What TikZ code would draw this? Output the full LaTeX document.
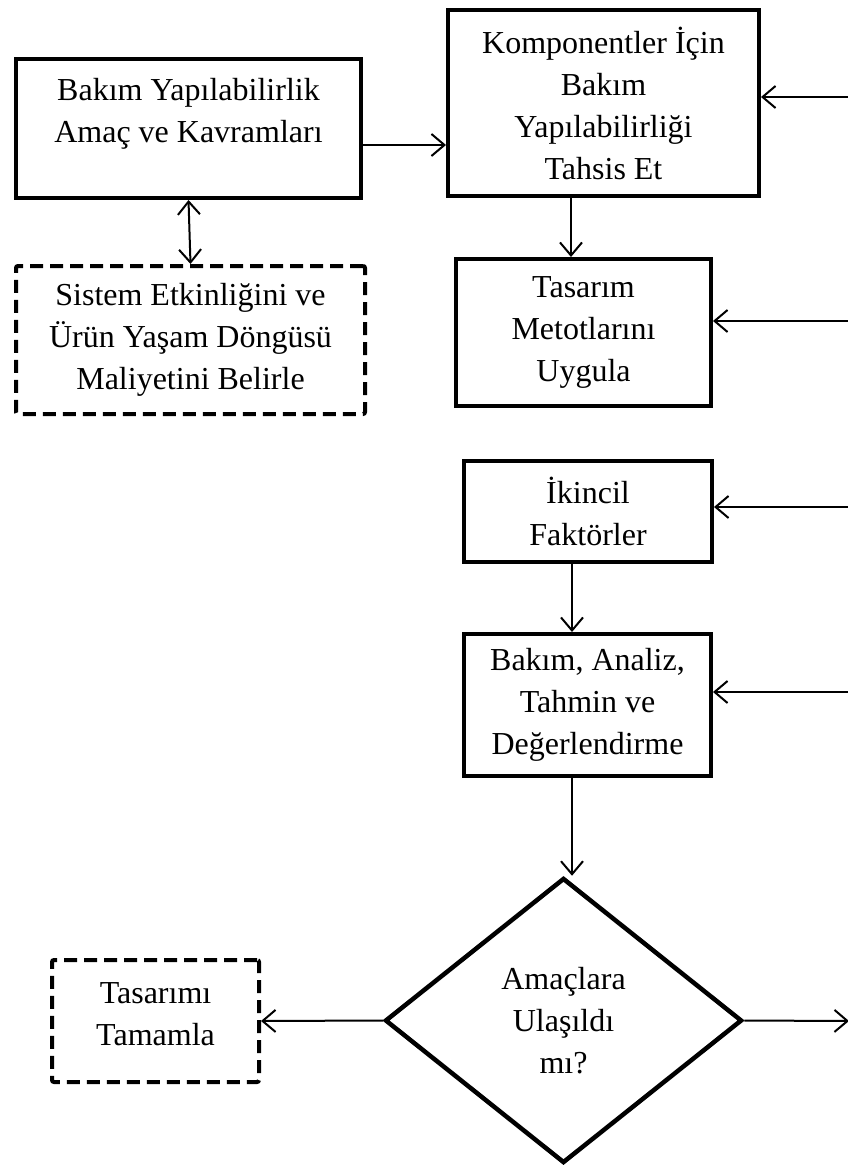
\documentclass[tikz,border=0pt]{standalone}
\usepackage{fontspec}
\setmainfont{Liberation Serif}
\usetikzlibrary{arrows.meta,shapes.geometric}
\begin{document}
\begin{tikzpicture}[x=1pt,y=-1pt,
  >={Straight Barb[length=13pt,width=22pt]},
  every node/.style={font=\fontsize{32}{42}\selectfont, align=center, inner sep=0pt},
  box/.style={draw, line width=4pt, rectangle},
  dbox/.style={draw, line width=4pt, dash pattern=on 13pt off 7pt, rounded corners=2pt},
  decision/.style={draw, diamond, line width=4.5pt},
  arr/.style={line width=2pt, ->},
  dblarr/.style={line width=2pt, <->}]
\useasboundingbox (0,0) rectangle (847,1166);

% left column
\node[box, minimum width=345pt, minimum height=139pt] (b1) at (188.5,128.5) {};
\node (b1t) at (188.5,114) {Bakım Yapılabilirlik\\Amaç ve Kavramları};
\node[dbox, minimum width=349pt, minimum height=148pt] (sis) at (190.5,340)
  {Sistem Etkinliğini ve\\Ürün Yaşam Döngüsü\\Maliyetini Belirle};

% right column
\node[box, minimum width=311pt, minimum height=186pt] (b2) at (603.5,103)
  {Komponentler İçin\\Bakım\\Yapılabilirliği\\Tahsis Et};
\node[box, minimum width=255pt, minimum height=147pt] (tas) at (583.5,332.5)
  {Tasarım\\Metotlarını\\Uygula};
\node[box, minimum width=248pt, minimum height=101pt] (ik) at (588,511.5)
  {İkincil\\Faktörler};
\node[box, minimum width=247pt, minimum height=142pt] (bak) at (587.5,705)
  {Bakım, Analiz,\\Tahmin ve\\Değerlendirme};
\node[decision, minimum width=357pt, minimum height=285pt] (dia) at (563.5,1020.5)
  {Amaçlara\\Ulaşıldı\\mı?};
\node[dbox, minimum width=207pt, minimum height=122pt] (tt) at (155.5,1021) {};
\node (ttt) at (155.5,1014) {Tasarımı\\Tamamla};

% free ends at the right border
\coordinate (in1) at (852,97);
\coordinate (in2) at (852,321);
\coordinate (in3) at (852,507);
\coordinate (in4) at (852,692);
\coordinate (out) at (849,1021);

% connectors
\draw[arr] (b1.east |- 0,145) -- (b2.west |- 0,145);
\draw[dblarr] (b1.south) -- (sis.north);
\draw[arr] (b2.south -| 571,0) -- (tas.north -| 571,0);
\draw[arr] (ik.south -| 572,0) -- (bak.north -| 572,0);
\draw[arr] (bak.south -| 572,0) -- (dia.north -| 572,0);
\draw[arr] (dia.west) -- (tt.east);
\draw[arr] (dia.east) -- (out);
\draw[arr] (in1) -- (in1 -| b2.east);
\draw[arr] (in2) -- (in2 -| tas.east);
\draw[arr] (in3) -- (in3 -| ik.east);
\draw[arr] (in4) -- (in4 -| bak.east);
\end{tikzpicture}
\end{document}
